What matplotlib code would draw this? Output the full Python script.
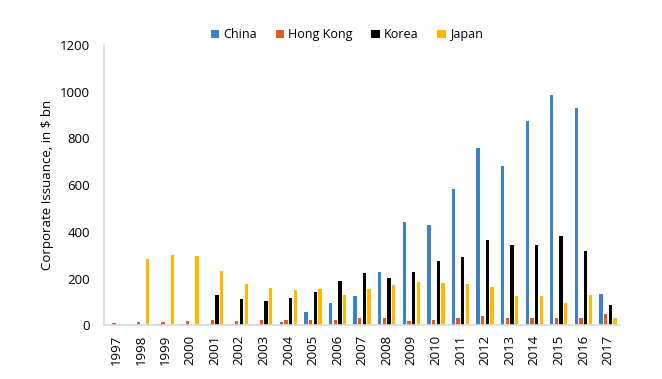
import numpy as np
import matplotlib.pyplot as plt

plt.rcParams['font.family'] = ['Open Sans', 'DejaVu Sans']

years = [str(y) for y in range(1997, 2018)]
china = [0, 0, 4, 4, 4, 4, 5, 13, 57, 94, 127, 229, 443, 431, 582, 757, 682, 875, 986, 931, 132]
hong_kong = [8, 12, 12, 17, 24, 17, 24, 21, 21, 24, 30, 30, 17, 24, 30, 38, 30, 30, 31, 31, 47]
korea = [0, 0, 0, 0, 131, 111, 104, 118, 144, 191, 222, 201, 226, 273, 293, 364, 342, 342, 384, 319, 85]
japan = [0, 282, 299, 296, 231, 176, 158, 149, 154, 131, 154, 171, 184, 179, 175, 162, 124, 124, 94, 131, 30]

series = [('China', china, '#3C82C8'),
          ('Hong Kong', hong_kong, '#E8591E'),
          ('Korea', korea, '#000000'),
          ('Japan', japan, '#FFB800')]

fig = plt.figure(figsize=(6.62, 3.79), dpi=100)
ax = fig.add_axes([0.157, 0.142, 0.78, 0.739])

x = np.arange(len(years))
pitch = 0.19
width = 0.135
for i, (name, vals, col) in enumerate(series):
    ax.bar(x + (i - 1.5) * pitch, vals, width, color=col, label=name)

ax.set_xlim(-0.5, len(years) - 0.5)
ax.set_ylim(0, 1200)
ax.set_yticks(range(0, 1201, 200))
ax.set_xticks(x)
ax.set_xticklabels(years, rotation=90)
ax.tick_params(length=0, labelsize=9.5)
ax.tick_params(axis='y', pad=10)
ax.tick_params(axis='x', pad=7)

for s in ['top', 'right']:
    ax.spines[s].set_visible(False)
for s in ['left', 'bottom']:
    ax.spines[s].set_color('#D9D9D9')
    ax.spines[s].set_linewidth(1.2)

ax.set_ylabel('Corporate Issuance, in $ bn', fontsize=9.5, labelpad=4)

ax.legend(loc='upper center', bbox_to_anchor=(0.47, 1.1), ncol=4, frameon=False,
          fontsize=9, handlelength=0.7, handleheight=0.7, handletextpad=0.3,
          columnspacing=1.5)

fig.savefig('out.png', dpi=100)
